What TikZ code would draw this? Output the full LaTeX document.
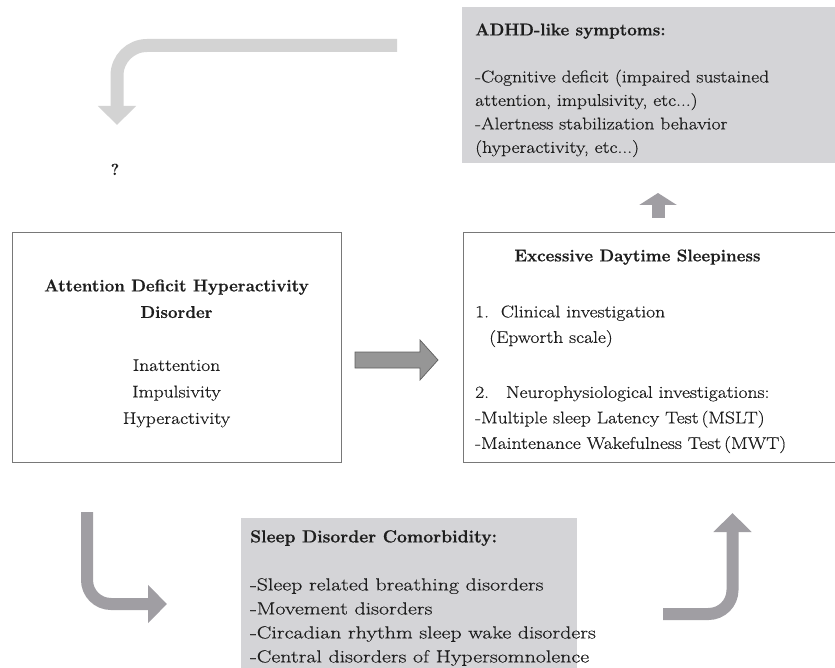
\documentclass[tikz,border=0pt]{standalone}
\usepackage{fontspec}
\usetikzlibrary{arrows.meta}
% widened, slightly heavier body faces; headings use a heavier bold
\newfontfamily\bodyface{Latin Modern Roman}[FakeStretch=1.15, FakeBold=0.5]
\newfontfamily\wideface{Latin Modern Roman}[FakeStretch=1.25, FakeBold=0.5]
\newfontfamily\headface{Latin Modern Roman}[FakeBold=0.7]
\definecolor{txt}{RGB}{30,30,30}
\definecolor{boxfill}{RGB}{212,212,215}
\definecolor{boxline}{RGB}{120,120,120}
\definecolor{paleflow}{RGB}{211,211,211}
\definecolor{flow}{RGB}{160,158,163}
\definecolor{midfill}{RGB}{150,150,150}
\definecolor{midline}{RGB}{95,95,95}
\newcommand{\heading}[1]{{\headface\bfseries #1}}
\begin{document}
\begin{tikzpicture}[x=1pt,y=-1pt,
  every node/.style={text=txt, inner sep=0pt},
  body/.style={font=\fontsize{17}{#1}\selectfont\bodyface},
  body/.default=24,
  framebox/.style={draw=boxline, line width=1.1pt, fill=white, anchor=north west},
  shadebox/.style={fill=boxfill, anchor=north west},
  bentflow/.style={line width=#1, -{Triangle[length=19pt,width=37pt]}},
  paleflowline/.style={bentflow=13pt, draw=paleflow, rounded corners=30pt},
  darkflowline/.style={bentflow=12pt, draw=flow, rounded corners=24pt}
]
\useasboundingbox (0,0) rectangle (835,668);
\clip (0,0) rectangle (835,668);

% boxes
\node[shadebox, minimum width=380, minimum height=156] (sym) at (462,7) {};
\node[framebox, minimum width=329, minimum height=230] (adhd) at (12,232) {};
\node[framebox, minimum width=380, minimum height=230] (eds) at (463,232) {};
\node[shadebox, minimum width=336, minimum height=160] (comorb) at (241,518) {};

% ADHD-like symptoms
\node[body=23.5, align=left, anchor=north west] (symtext) at (475,23.3)
  {\heading{ADHD-like symptoms:}\\[23.5pt]
   -Cognitive deficit (impaired sustained\\
   attention, impulsivity, etc...)\\
   -Alertness stabilization behavior\\
   (hyperactivity, etc...)};

% ADHD box
\node[body=26.5, align=center, anchor=north] (adhdtext) at (176.5,279.3)
  {\heading{Attention Deficit Hyperactivity}\\
   \heading{Disorder}\\[26.5pt]
   Inattention\\
   Impulsivity\\
   Hyperactivity};

% Excessive daytime sleepiness box
\node[body, anchor=north] (edstitle) at (637.5,249.3)
  {\heading{Excessive Daytime Sleepiness}};
\node[body=25.5, align=left, anchor=north west] (edstext) at (475,305.3)
  {1.\ \ Clinical investigation\\
   \hspace*{14pt}(Epworth scale)\\[29.5pt]
   2.\quad Neurophysiological investigations:\\
   -Multiple sleep Latency Test\,(MSLT)\\
   -Maintenance Wakefulness Test\,(MWT)};

% Comorbidity box
\node[font=\fontsize{17.5}{24}\selectfont\wideface, align=left, anchor=north west]
  (comorbtext) at (250,530)
  {\heading{Sleep Disorder Comorbidity:}\\[24pt]
   -Sleep related breathing disorders\\
   -Movement disorders\\
   -Circadian rhythm sleep wake disorders\\
   -Central disorders of Hypersomnolence};

% question mark
\node[font=\fontsize{16}{24}\selectfont\headface\bfseries, anchor=base] (q) at (115,175) {?};

% flow arrows
\coordinate (backStart) at (397,45.5);
\coordinate (backEnd) at (117,125);
\draw[paleflowline] (backStart) -| (backEnd);

\coordinate (downStart) at (87,512);
\coordinate (downEnd) at (167,604);
\draw[darkflowline] (downStart) |- (downEnd);

\coordinate (upStart) at (663,614);
\coordinate (upEnd) at (732.5,513);
\draw[darkflowline] (upStart) -| (upEnd);

\coordinate (topStart) at (658,218);
\coordinate (topEnd) at (658,193);
\draw[line width=13pt, draw=flow, -{Triangle[length=12pt,width=37pt]}] (topStart) -- (topEnd);

% block arrow from ADHD to daytime sleepiness
\coordinate (mid) at (355,360);
\draw[fill=midfill, draw=midline, line width=0.7pt]
  (mid) +(0,-8) -- +(65,-8) -- +(65,-20) -- +(83,0) -- +(65,20) -- +(65,8) -- +(0,8) -- cycle;
\end{tikzpicture}
\end{document}
